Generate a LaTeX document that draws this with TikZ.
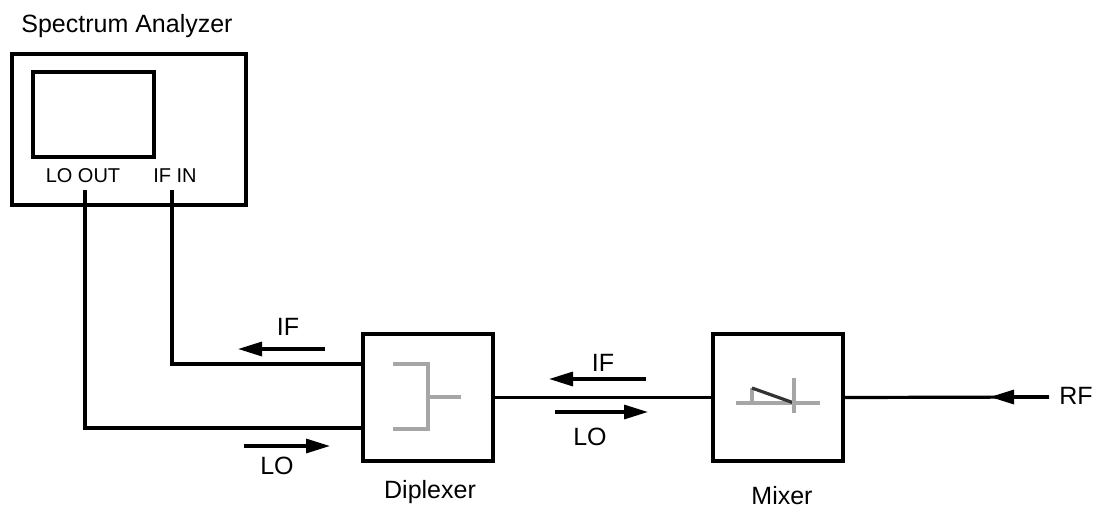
\documentclass[tikz,border=0pt]{standalone}
\usepackage{fontspec}
\setmainfont{Liberation Sans}
\usetikzlibrary{arrows.meta}
\begin{document}
\begin{tikzpicture}[x=0.5pt,y=-0.5pt,
    box/.style={draw, line width=2pt, inner sep=0pt},
    wire/.style={line width=1.6pt},
    sig/.style={line width=1.6pt, -{Triangle[length=12pt,width=7pt]}},
    sym/.style={gray!70, line width=1.6pt},
    lbl/.style={font=\fontsize{12.5}{14}\selectfont, inner sep=0pt}]
    \useasboundingbox (0,0) rectangle (1093,504);
    % spectrum analyzer
    \node[lbl] (satitle) at (127,26) {Spectrum Analyzer};
    \node[box, minimum width=117pt, minimum height=75.5pt] (sa) at (129,129.5) {};
    \node[box, minimum width=60.5pt, minimum height=42.5pt] (screen) at (93.5,114.5) {};
    \node[lbl, font=\fontsize{10}{12}\selectfont] (loout) at (83,176) {LO OUT};
    \node[lbl, font=\fontsize{10}{12}\selectfont] (ifin) at (175,176) {IF IN};
    \coordinate (loport) at (85,190);
    \coordinate (ifport) at (172,190);
    % diplexer and mixer
    \node[box, minimum width=65pt, minimum height=63.5pt] (dip) at (428,397.5) {};
    \node[lbl] (diplbl) at (430,492) {Diplexer};
    \node[box, minimum width=65pt, minimum height=63.5pt] (mix) at (778,397.5) {};
    \node[lbl] (mixlbl) at (782,496) {Mixer};
    \coordinate (dipif) at (363,364);
    \coordinate (diplo) at (363,428);
    \coordinate (rfend) at (1049,397);
    \node[lbl] (rf) at (1076,396) {RF};
    % wires
    \draw[wire] (ifport) |- (dipif);
    \draw[wire] (loport) |- (diplo);
    \draw[wire] (dip.east) -- (mix.west);
    \draw[wire] (mix.east) -- (rfend);
    % symbols
    \draw[sym] (393,364) -- (428,364) -- (428,429) -- (393,429);
    \draw[sym] (428,397) -- (461,397);
    \draw[sym] (736,403) -- (820,403);
    \draw[sym] (752,403) -- (752,388);
    \draw[sym, black!80] (752,388) -- (794,403);
    \draw[sym] (794,378) -- (794,413);
    % signal arrows
    \foreach \name/\xa/\xb/\y in {ifa/325/238/349, loa/244/330/446, ifb/646/549/379, lob/555/648/412, rfa/1049/990/397} {
        \coordinate (\name s) at (\xa,\y);
        \coordinate (\name e) at (\xb,\y);
        \draw[sig] (\name s) -- (\name e);
    }
    \node[lbl] (ifalbl) at (288,327) {IF};
    \node[lbl] (loalbl) at (277,466) {LO};
    \node[lbl] (ifblbl) at (603,363) {IF};
    \node[lbl] (loblbl) at (590,437) {LO};
\end{tikzpicture}
\end{document}
